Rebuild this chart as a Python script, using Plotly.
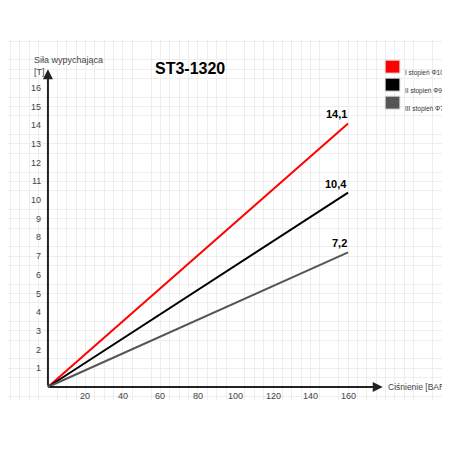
import plotly.graph_objects as go

pressure = [0, 160]
series_names = ["I stopień Φ105", "II stopień Φ90", "III stopień Φ75"]
series_end = [14.1, 10.4, 7.2]
series_labels = ["14,1", "10,4", "7,2"]
colors = ["#ff0000", "#000000", "#555555"]
x_ticks = [20, 40, 60, 80, 100, 120, 140, 160]
y_ticks = list(range(1, 17))

fig = go.Figure()
for name, end, lab, c in zip(series_names, series_end, series_labels, colors):
    fig.add_trace(go.Scatter(x=pressure, y=[0, end], mode="lines", line=dict(color=c, width=2),
                             name=name, showlegend=False, hoverinfo="skip"))
    fig.add_annotation(x=pressure[-1], y=end, text="<b>" + lab + "</b>", showarrow=False,
                       xanchor="right", yanchor="bottom", yshift=1, xshift=1,
                       font=dict(size=11, color="#000"))

# axes with arrows
fig.add_annotation(x=178.5, y=0, ax=0, ay=0, xref="x", yref="y", axref="x", ayref="y",
                   showarrow=True, arrowhead=2, arrowsize=1, arrowwidth=2, arrowcolor="#222", text="")
fig.add_annotation(x=0, y=17, ax=0, ay=0, xref="x", yref="y", axref="x", ayref="y",
                   showarrow=True, arrowhead=2, arrowsize=1, arrowwidth=2, arrowcolor="#222", text="")

for t in x_ticks:
    fig.add_annotation(x=t, y=0, text=str(t), showarrow=False, yanchor="top", yshift=-2,
                       font=dict(size=9, color="#444"))
for t in y_ticks:
    fig.add_annotation(x=0, y=t, text=str(t), showarrow=False, xanchor="right", xshift=-5,
                       font=dict(size=9, color="#444"))

fig.add_annotation(x=180, y=0, text="Ciśnienie [BAR]", showarrow=False, xanchor="left",
                   font=dict(size=8.5, color="#444"))
fig.add_annotation(x=-8.5, y=16.5, text="Siła wypychająca<br>[T]", showarrow=False, xanchor="left",
                   yanchor="bottom", align="left", font=dict(size=9, color="#444"))
fig.add_annotation(x=0.419, y=0.95, xref="paper", yref="paper", text="<b>ST3-1320</b>",
                   showarrow=False, font=dict(size=16, color="#000"))

# legend boxes
for i, (name, c) in enumerate(zip(series_names, colors)):
    top = 0.944 - i * 0.05
    fig.add_shape(type="rect", xref="paper", yref="paper", x0=0.869, x1=0.903, y0=top - 0.036, y1=top,
                  fillcolor=c, line=dict(color="#dddddd", width=1))
    fig.add_annotation(x=0.91, y=top - 0.018, xref="paper", yref="paper", text=name,
                       showarrow=False, xanchor="left", font=dict(size=6.5, color="#333"))

fig.update_layout(
    width=434, height=434, margin=dict(l=0, r=0, t=32, b=42),
    paper_bgcolor="white", plot_bgcolor="white", showlegend=False,
    font=dict(family="Liberation Sans, Arial"),
    xaxis=dict(range=[-21.3, 210.1], showticklabels=False, showgrid=False, zeroline=False,
               ticks="", minor=dict(dtick=5, tick0=0, showgrid=True, gridcolor="#eeeeee", gridwidth=1)),
    yaxis=dict(range=[-0.695, 18.56], showticklabels=False, showgrid=False, zeroline=False,
               ticks="", minor=dict(dtick=0.5, tick0=0, showgrid=True, gridcolor="#eeeeee", gridwidth=1)),
)

fig.write_html("out.html")
